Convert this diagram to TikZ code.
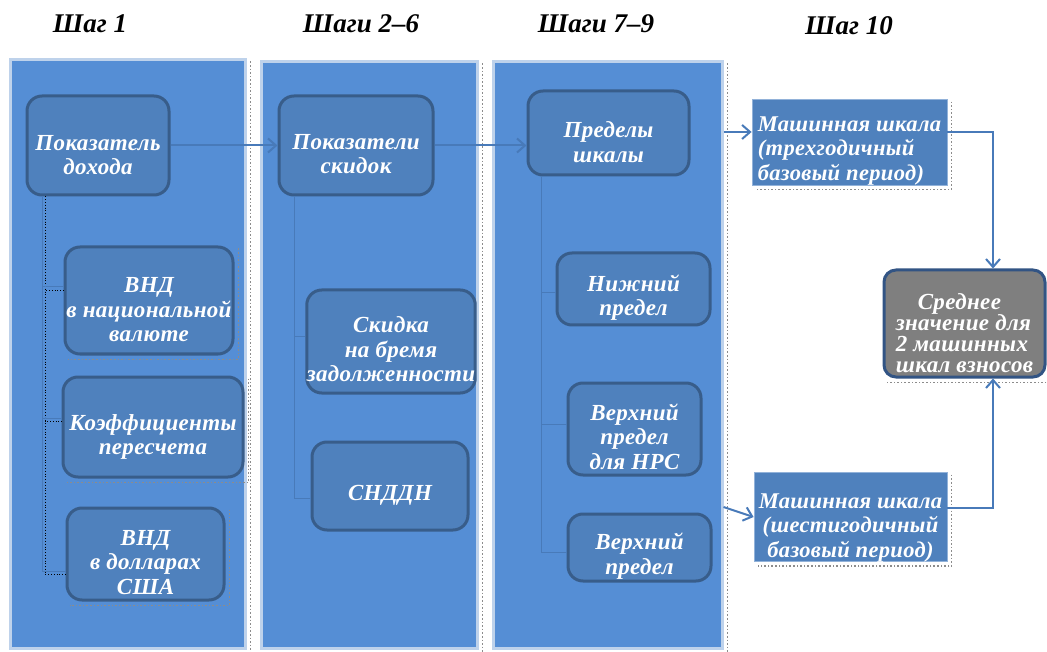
\documentclass[tikz,border=0pt]{standalone}
\usepackage{fontspec}
\setmainfont{Liberation Serif}
\newfontfamily\bxf[LetterSpace=1.5]{Liberation Serif}
\usetikzlibrary{arrows.meta,calc}
\definecolor{panelfill}{RGB}{85,142,213}
\definecolor{panelborder}{RGB}{190,210,235}
\definecolor{boxfill}{RGB}{79,129,189}
\definecolor{boxborder}{RGB}{56,93,138}
\definecolor{linecol}{RGB}{72,122,185}
\definecolor{avgfill}{RGB}{127,127,127}
\definecolor{avgborder}{RGB}{50,84,132}
\definecolor{shadecol}{RGB}{140,140,140}
\newcommand\dropline[1]{\rule{0pt}{#1}}
\tikzset{
  panel/.style={draw=panelborder, line width=3pt, fill=panelfill, inner sep=0pt},
  stepbox/.style={draw=boxborder, line width=3pt, fill=boxfill, rounded corners=15pt,
    inner sep=0pt, text=white, align=center,
    font=\bxf\bfseries\itshape\fontsize{23}{24.5}\selectfont},
  machbox/.style={draw=panelborder!60!boxfill, line width=0.8pt, fill=boxfill,
    inner sep=0pt, text=white,
    font=\bxf\bfseries\itshape\fontsize{22.5}{24.5}\selectfont},
  avgbox/.style={draw=avgborder, line width=3pt, fill=avgfill, rounded corners=12pt,
    inner sep=0pt, text=white,
    font=\bxf\bfseries\itshape\fontsize{23}{21}\selectfont},
  hdr/.style={anchor=base, font=\bfseries\itshape\fontsize{27}{30}\selectfont},
  tree/.style={draw=linecol, line width=1pt},
  treeshadow/.style={draw=black, dotted, line width=0.8pt},
  arr/.style={draw=linecol, line width=2pt,
    -{Straight Barb[length=8pt,width=14pt,line width=2pt]}},
  shadowline/.style={draw=shadecol, dotted, line width=1.6pt},
}
\newcommand\shadowof[1]{%
  \draw[shadowline] ([xshift=4pt,yshift=-3pt]#1.north east) --
    ([xshift=4pt,yshift=-4pt]#1.south east) -- ([xshift=4pt,yshift=-4pt]#1.south west);}
\begin{document}
\begin{tikzpicture}[x=1pt,y=-1pt]
\useasboundingbox[fill=white] (0,0) rectangle (1047,652);

% headers
\node[hdr] (h1) at (90,33) {Шаг 1};
\node[hdr] (h2) at (361,33) {Шаги 2–6};
\node[hdr] (h3) at (596,33) {Шаги 7–9};
\node[hdr] (h4) at (849,35) {Шаг 10};

% panels
\node[panel, minimum width=235pt, minimum height=588pt] (p1) at (127.5,354) {};
\node[panel, minimum width=216pt, minimum height=586pt] (p2) at (369,355) {};
\node[panel, minimum width=229pt, minimum height=586pt] (p3) at (607.5,355) {};
\shadowof{p1}
\shadowof{p2}
\shadowof{p3}

% column 1
\node[stepbox, minimum width=142pt, minimum height=99pt] (b1) at (98,145.5) {\dropline{34pt}Показатель\\дохода};
\node[stepbox, minimum width=168pt, minimum height=107pt] (b1a) at (149,300.5) {\dropline{34pt}ВНД\\в национальной\\валюте};
\node[stepbox, minimum width=180pt, minimum height=100pt] (b1b) at (153,427) {\dropline{36pt}Коэффициенты\\пересчета};
\node[stepbox, minimum width=157pt, minimum height=92pt] (b1c) at (145.5,554) {\dropline{32pt}ВНД\\в долларах\\США};
\shadowof{b1a}
\shadowof{b1b}
\shadowof{b1c}
\coordinate (t1) at (42,0);
\coordinate (t1s) at (45,0);
\draw[treeshadow] (b1.south -| t1s) |- ([yshift=10pt]b1a.west);
\draw[treeshadow] (b1.south -| t1s) |- ([yshift=6pt]b1b.west);
\draw[treeshadow] (b1.south -| t1s) |- ([yshift=-20pt]b1c.west);
\draw[tree] (b1.south -| t1) |- ([yshift=13.5pt]b1a.west);
\draw[tree] (b1.south -| t1) |- ([yshift=9pt]b1b.west);
\draw[tree] (b1.south -| t1) |- ([yshift=-17pt]b1c.west);

% column 2
\node[stepbox, minimum width=154pt, minimum height=99pt] (b2) at (356,145.5) {\dropline{32pt}Показатели\\скидок};
\node[stepbox, minimum width=160pt, minimum height=103pt] (b2a) at (391,341.5) {\dropline{32pt}Скидка\\на бремя\\задолженности};
\node[stepbox, minimum width=156pt, minimum height=88pt] (b2b) at (390,486) {\dropline{34pt}СНДДН};
\coordinate (t2) at (294,0);
\draw[tree] (b2.south -| t2) |- ([yshift=4.5pt]b2a.west);
\draw[tree] (b2.south -| t2) |- ([yshift=-12pt]b2b.west);

% column 3
\node[stepbox, minimum width=161pt, minimum height=84pt] (b3) at (608.5,133) {\dropline{34pt}Пределы\\шкалы};
\node[stepbox, minimum width=153pt, minimum height=72pt] (b3a) at (633.5,289) {\dropline{34pt}Нижний\\предел};
\node[stepbox, minimum width=133pt, minimum height=92pt] (b3b) at (634.5,429) {\dropline{32pt}Верхний\\предел\\для НРС};
\node[stepbox, minimum width=143pt, minimum height=67pt] (b3c) at (639.5,547.5) {\dropline{34pt}Верхний\\предел};
\coordinate (t3) at (541,0);
\draw[tree] (b3.south -| t3) |- ([yshift=-4pt]b3a.west);
\draw[tree] (b3.south -| t3) |- ([yshift=5pt]b3b.west);
\draw[tree] (b3.south -| t3) |- ([yshift=-4.5pt]b3c.west);

% column 4
\node[machbox, minimum width=195pt, minimum height=86pt, align=left] (m1) at (849.5,142)
  {\dropline{32pt}Машинная шкала\\(трехгодичный\\базовый период)};
\node[machbox, minimum width=193pt, minimum height=86pt, align=center] (m2) at (850.5,517)
  {\dropline{36pt}Машинная шкала\\(шестигодичный\\базовый период)};
\node[avgbox, minimum width=161pt, minimum height=107pt, align=left] (avg) at (964.5,323.5)
  {\dropline{36pt}\hspace*{22pt}Среднее\\значение для\\2 машинных\\шкал взносов};
\shadowof{m1}
\shadowof{m2}
\shadowof{avg}

% arrows
\draw[arr] (b1.east) -- (b2.west);
\draw[arr] (b2.east) -- (b2.east -| b3.west);
\draw[arr] ([yshift=10pt]m1.west -| p3.east) -- ([yshift=10pt]m1.west);
\draw[arr] ([yshift=10pt]m2.west -| p3.east) -- (m2.west);
\draw[arr] ([yshift=10pt]m1.east) -| ([xshift=28.5pt]avg.north);
\draw[arr] ([yshift=9pt]m2.east) -| ([xshift=28.5pt]avg.south);
\end{tikzpicture}
\end{document}
